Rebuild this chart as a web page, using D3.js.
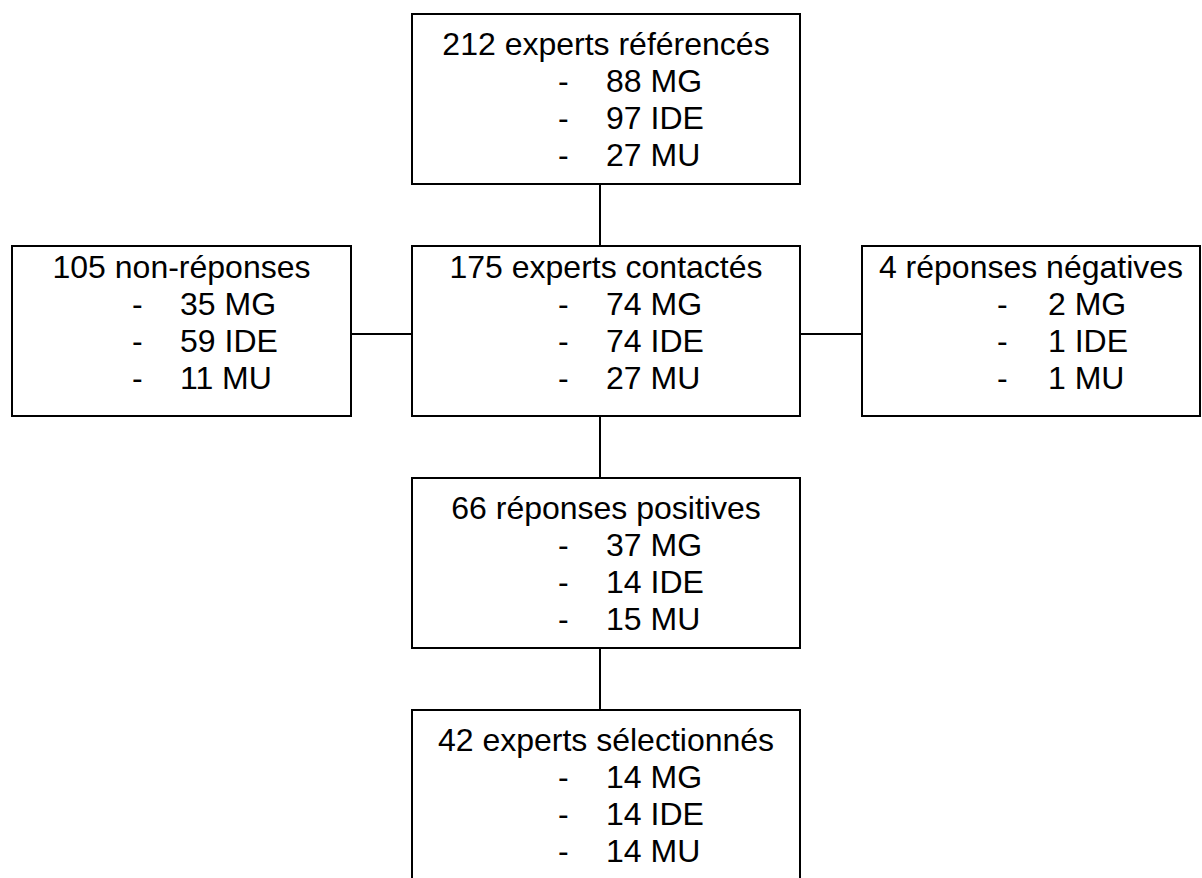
<!DOCTYPE html>
<html>
<head>
<meta charset="utf-8">
<script src="https://cdn.jsdelivr.net/npm/d3@7"></script>
<style>
  html, body { margin: 0; padding: 0; background: #fff; }
  svg { display: block; }
  text { font-family: "Liberation Sans", Arial, sans-serif; font-size: 32px; fill: #000; }
</style>
</head>
<body>
<div id="chart"></div>
<script>
// flowchart data
const totals = [212, 175, 105, 4, 66, 42]
const labels = [
  'experts référencés',
  'experts contactés',
  'non-réponses',
  'réponses négatives',
  'réponses positives',
  'experts sélectionnés'
]
const categories = ['MG', 'IDE', 'MU']
const mgCounts = [88, 74, 35, 2, 37, 14]
const ideCounts = [97, 74, 59, 1, 14, 14]
const muCounts = [27, 27, 11, 1, 15, 14]

// layout (box position, text offsets), separate from the values
const layout = [
  { x: 412, y: 14, w: 388, top: 41, dash: 146, item: 194 },
  { x: 412, y: 246, w: 388, top: 32, dash: 146, item: 194 },
  { x: 12, y: 246, w: 339, top: 32, dash: 120, item: 168 },
  { x: 862, y: 246, w: 338, top: 32, dash: 135, item: 186 },
  { x: 412, y: 478, w: 388, top: 41, dash: 146, item: 194 },
  { x: 412, y: 710, w: 388, top: 41, dash: 146, item: 194 }
]
const boxH = 170
const links = [[0, 1, 'v'], [1, 4, 'v'], [4, 5, 'v'], [2, 1, 'h'], [1, 3, 'h']]

const width = 1202
const height = 878

let nodes = totals.map((t, i) => ({
  title: `${t} ${labels[i]}`,
  items: [mgCounts[i], ideCounts[i], muCounts[i]].map((v, j) => `${v} ${categories[j]}`),
  ...layout[i]
}))

let svg = d3.select('#chart')
  .append('svg')
  .attr('width', width)
  .attr('height', height)

// line index -> y offset inside a box
let lineY = d3.scaleLinear().domain([0, 1]).range([0, 37])

/* connectors */
let connX = 600
let connY = 334
svg.append('g')
  .selectAll('line')
  .data(links)
  .enter()
  .append('line')
  .attr('x1', d => d[2] === 'v' ? connX : nodes[d[0]].x + nodes[d[0]].w)
  .attr('x2', d => d[2] === 'v' ? connX : nodes[d[1]].x)
  .attr('y1', d => d[2] === 'v' ? nodes[d[0]].y + boxH : connY)
  .attr('y2', d => d[2] === 'v' ? nodes[d[1]].y : connY)
  .attr('stroke', '#000')
  .attr('stroke-width', 2)

/* boxes */
let box = svg.append('g')
  .selectAll('.box')
  .data(nodes)
  .enter()
  .append('g')
  .attr('class', 'box')
  .attr('transform', d => `translate(${d.x}, ${d.y})`)

box.append('rect')
  .attr('width', d => d.w)
  .attr('height', boxH)
  .attr('fill', '#fff')
  .attr('stroke', '#000')
  .attr('stroke-width', 2)

box.append('text')
  .attr('x', d => d.w / 2)
  .attr('y', d => d.top)
  .attr('text-anchor', 'middle')
  .text(d => d.title)

let item = box.selectAll('.item')
  .data(d => d.items.map((t, i) => ({ t, i, node: d })))
  .enter()
  .append('g')
  .attr('class', 'item')

item.append('text')
  .attr('x', d => d.node.dash)
  .attr('y', d => d.node.top + lineY(d.i + 1))
  .text('-')

item.append('text')
  .attr('x', d => d.node.item)
  .attr('y', d => d.node.top + lineY(d.i + 1))
  .text(d => d.t)
</script>
</body>
</html>
